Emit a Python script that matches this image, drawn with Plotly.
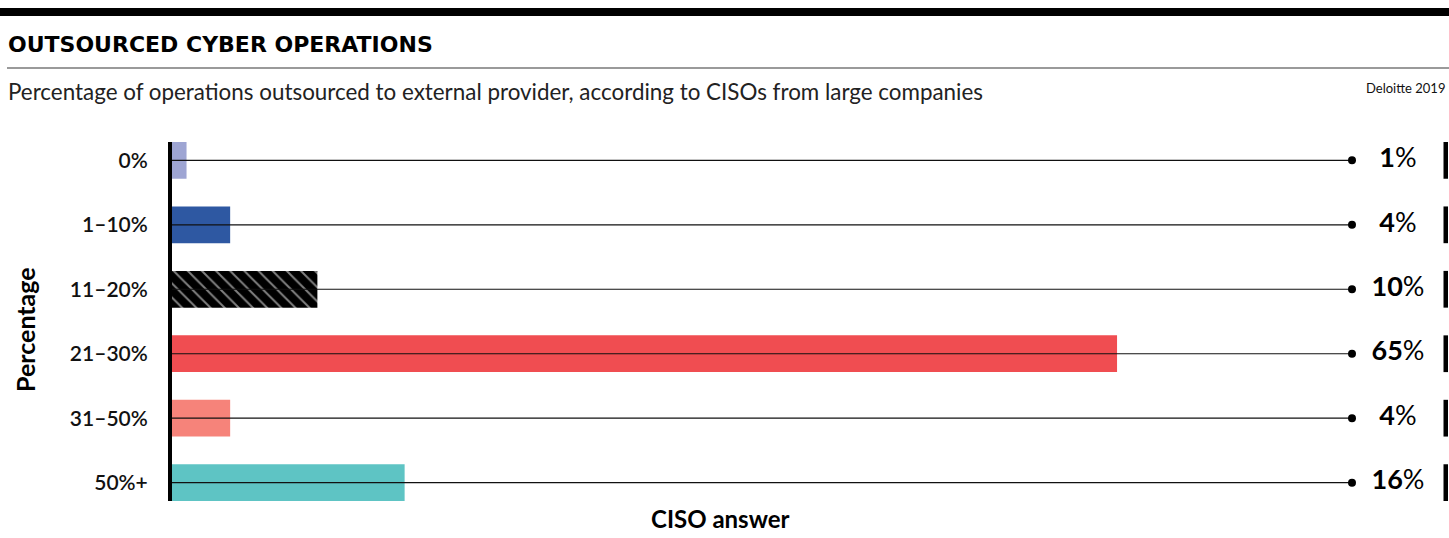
import plotly.graph_objects as go

W, H = 1449, 538

categories = ["0%", "1–10%", "11–20%", "21–30%", "31–50%", "50%+"]
values = [1, 4, 10, 65, 4, 16]
bar_colors = ["#9ea5d3", "#2e58a2", "#000000", "#f04d51", "#f6837a", "#5ec4c4"]
patterns = ["", "", "\\", "", "", ""]

title = "OUTSOURCED CYBER OPERATIONS"
subtitle = "Percentage of operations outsourced to external provider, according to CISOs from large companies"
source = "Deloitte 2019"
y_title = "Percentage"
x_title = "CISO answer"

FONT = "Lato"
X_MAX = 81.16  # right end of value axis (where the leader lines stop)

def px_x(p):
    return p / W

def px_y(p):
    return (H - p) / H

fig = go.Figure()

# main bars
fig.add_trace(go.Bar(
    y=categories, x=values, orientation="h",
    marker=dict(color=bar_colors, line=dict(width=0),
                pattern=dict(shape=patterns, fgcolor="white", fillmode="overlay",
                             size=10, solidity=0.2)),
    xaxis="x", yaxis="y", hoverinfo="skip", showlegend=False,
))

# leader lines through each category, drawn above the bars
lx, ly = [], []
for c in categories:
    lx += [0, X_MAX, None]
    ly += [c, c, None]
fig.add_trace(go.Scatter(
    x=lx, y=ly, mode="lines", line=dict(color="#111", width=1.2),
    xaxis="x", yaxis="y", hoverinfo="skip", showlegend=False, cliponaxis=False,
))
fig.add_trace(go.Scatter(
    x=[X_MAX] * len(categories), y=categories, mode="markers",
    marker=dict(color="#000", size=8),
    xaxis="x", yaxis="y", hoverinfo="skip", showlegend=False, cliponaxis=False,
))

# right column: value labels and black tabs
fig.add_trace(go.Scatter(
    x=[46] * len(categories), y=categories, mode="text",
    text=[f"<b>{v}</b>%" for v in values],
    textfont=dict(family=FONT, size=27, color="#000"),
    xaxis="x2", yaxis="y", hoverinfo="skip", showlegend=False, cliponaxis=False,
))
fig.add_trace(go.Bar(
    y=categories, x=[4.5] * len(categories), base=91.5, orientation="h",
    marker=dict(color="#000", line=dict(width=0)),
    xaxis="x2", yaxis="y", hoverinfo="skip", showlegend=False,
))

left = 172
right = 1352
fig.update_layout(
    width=W, height=H, autosize=False,
    margin=dict(l=0, r=0, t=0, b=0),
    paper_bgcolor="white", plot_bgcolor="rgba(0,0,0,0)",
    bargap=0.43,
    xaxis=dict(domain=[px_x(left), px_x(right)], range=[0, X_MAX], visible=False,
               fixedrange=True),
    xaxis2=dict(domain=[px_x(right), 1], range=[0, 97], visible=False, anchor="y",
                fixedrange=True),
    yaxis=dict(domain=[px_y(501), px_y(142)], type="category",
               categoryorder="array", categoryarray=categories,
               range=[len(categories) - 1 + 0.285, -0.285],
               showline=True, linecolor="#000", linewidth=4,
               showgrid=False, zeroline=False,
               ticks="outside", ticklen=16, tickcolor="rgba(0,0,0,0)",
               tickfont=dict(family=FONT, size=21, color="#111", weight=600),
               fixedrange=True),
    font=dict(family=FONT, color="#111"),
    shapes=[
        dict(type="rect", xref="paper", yref="paper", x0=0, x1=1,
             y0=px_y(16), y1=px_y(8), fillcolor="#000", line=dict(width=0)),
        dict(type="line", xref="paper", yref="paper", x0=px_x(7), x1=1,
             y0=px_y(68), y1=px_y(68), line=dict(color="#9a9a9a", width=2)),
    ],
    annotations=[
        dict(text=f"<b>{title}</b>", xref="paper", yref="paper", x=px_x(6), y=px_y(45),
             xanchor="left", yanchor="middle", showarrow=False,
             font=dict(family="DejaVu Sans", size=22, color="#000")),
        dict(text=subtitle, xref="paper", yref="paper", x=px_x(6), y=px_y(91),
             xanchor="left", yanchor="middle", showarrow=False,
             font=dict(family=FONT, size=22.4, color="#222")),
        dict(text=source, xref="paper", yref="paper", x=px_x(1447), y=px_y(88),
             xanchor="right", yanchor="middle", showarrow=False,
             font=dict(family=FONT, size=13, color="#111")),
        dict(text=f"<b>{y_title}</b>", xref="paper", yref="paper", x=px_x(25), y=px_y(330),
             xanchor="center", yanchor="middle", showarrow=False, textangle=-90,
             font=dict(family=FONT, size=25, color="#000")),
        dict(text=f"<b>{x_title}</b>", xref="paper", yref="paper", x=px_x(720), y=px_y(518),
             xanchor="center", yanchor="middle", showarrow=False,
             font=dict(family=FONT, size=24, color="#000")),
    ],
)

fig.write_html(
    "out.html",
    config={"displayModeBar": False},
    post_script="document.body.style.margin='0';document.body.style.overflow='hidden';",
)
